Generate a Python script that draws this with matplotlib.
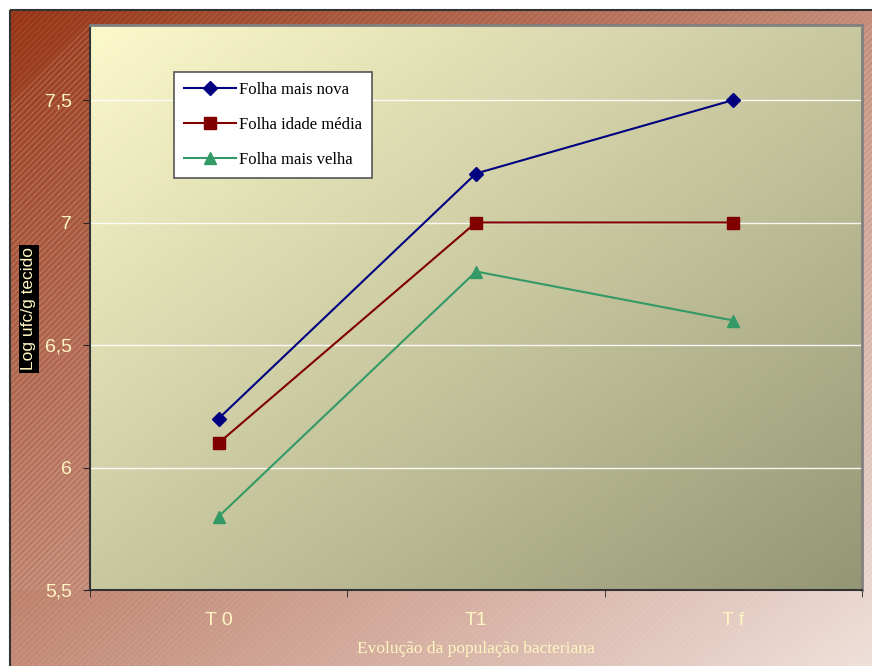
import numpy as np
import matplotlib
matplotlib.use("Agg")
import matplotlib.pyplot as plt
from matplotlib.collections import LineCollection
from matplotlib.colors import LinearSegmentedColormap
from matplotlib.patches import Rectangle

categories = ["T 0", "T1", "T f"]
series_names = ["Folha mais nova", "Folha idade média", "Folha mais velha"]
nova = [6.2, 7.2, 7.5]
media = [6.1, 7.0, 7.0]
velha = [5.8, 6.8, 6.6]
yticks = [5.5, 6.0, 6.5, 7.0, 7.5]
ytick_labels = ["5,5", "6", "6,5", "7", "7,5"]

W, H = 872, 666
fig = plt.figure(figsize=(W / 100, H / 100), dpi=100)
fig.patch.set_facecolor("white")

bg = fig.add_axes([0, 0, 1, 1])
bg.set_xlim(0, W)
bg.set_ylim(H, 0)
bg.axis("off")


def diag_gradient(c1, c2, n=300):
    xx, yy = np.meshgrid(np.linspace(0, 1, n), np.linspace(0, 1, n))
    t = (xx + yy) / 2
    cmap = LinearSegmentedColormap.from_list("g", [c1, c2])
    return cmap(t)


x0, y0, x1, y1 = 10, 10, 880, 680
bg.imshow(diag_gradient("#973515", "#f0e2dc"), extent=(x0, x1, y1, y0),
          aspect="auto", zorder=0, interpolation="bilinear")
bg.add_patch(Rectangle((x0, y0), x1 - x0, y1 - y0, fill=False,
                       edgecolor="#333333", lw=1.5, zorder=3))
segs = []
step = 6
for k in range(-H, W + H, step):
    segs.append([(k, y1), (k + (y1 - y0), y0)])
lc = LineCollection(segs, colors=(1, 1, 1, 0.12), linewidths=0.6, zorder=1)
lc.set_clip_path(Rectangle((x0, y0), x1 - x0, y1 - y0, transform=bg.transData))
bg.add_collection(lc)

L, R, T, B = 90, 862, 25, 590
ax = fig.add_axes([L / W, (H - B) / H, (R - L) / W, (B - T) / H])
ax.set_xlim(-0.5, 2.5)
ax.set_ylim(5.5, 7.5 + 75 / 245)
ax.imshow(diag_gradient("#fcfacb", "#959676"), extent=(0, 1, 0, 1),
          transform=ax.transAxes, aspect="auto", zorder=0, interpolation="bilinear")
segs2 = []
for k in range(-(B - T), (R - L) + (B - T), step):
    segs2.append([(L + k, B), (L + k + (B - T), T)])
lc2 = LineCollection(segs2, colors=(1, 1, 1, 0.2), linewidths=0.6, zorder=1.5)
lc2.set_clip_path(Rectangle((L, T), R - L, B - T, transform=bg.transData))
bg.add_collection(lc2)
ax.patch.set_alpha(0)

for yv in yticks[1:]:
    ax.axhline(yv, color="white", lw=1, alpha=0.9, zorder=1)

x = np.arange(len(categories))
ax.plot(x, nova, color="#000080", lw=1.5, marker="D", ms=7, label=series_names[0], zorder=4)
ax.plot(x, media, color="#800000", lw=1.5, marker="s", ms=9, label=series_names[1], zorder=4)
ax.plot(x, velha, color="#339966", lw=1.5, marker="^", ms=9, label=series_names[2], zorder=4)

tick_color = "#fff6c2"
ax.set_yticks(yticks)
ax.set_yticklabels(ytick_labels, fontsize=14, color=tick_color, family="Liberation Sans")
ax.set_xticks(x)
ax.set_xticklabels(categories, fontsize=14, color=tick_color, family="Liberation Sans")
ax.set_xticks([-0.5, 0.5, 1.5, 2.5], minor=True)
ax.tick_params(axis="x", which="major", length=0, pad=16)
ax.tick_params(axis="x", which="minor", length=5, color="#222222", direction="out")
ax.tick_params(axis="y", length=5, color="#222222", direction="out", pad=8)

for s in ["left", "bottom"]:
    ax.spines[s].set_color("#333333")
    ax.spines[s].set_linewidth(1.5)
for s in ["top", "right"]:
    ax.spines[s].set_color("#808080")
    ax.spines[s].set_linewidth(2)

leg = ax.legend(loc="upper left", bbox_to_anchor=((174 - L) / (R - L), 1 - (72 - T) / (B - T)),
                prop={"family": "Liberation Serif", "size": 12}, frameon=True,
                fancybox=False, edgecolor="#555555", facecolor="white", framealpha=1,
                handlelength=3.1, handletextpad=0.2, labelspacing=1.15, borderpad=0.6,
                borderaxespad=0)
leg.get_frame().set_linewidth(1.2)
leg.set_zorder(6)

fig.text(476 / W, 1 - 649 / H, "Evolução da população bacteriana", ha="center", va="center",
         fontsize=12.5, color=tick_color, family="Liberation Serif")
fig.text(29 / W, 1 - 309 / H, "Log ufc/g tecido", rotation=90, ha="center", va="center",
         fontsize=12.5, color=tick_color, family="Liberation Sans",
         bbox=dict(facecolor="black", edgecolor="none", pad=2))

fig.savefig("out.png", dpi=100, facecolor="white")
